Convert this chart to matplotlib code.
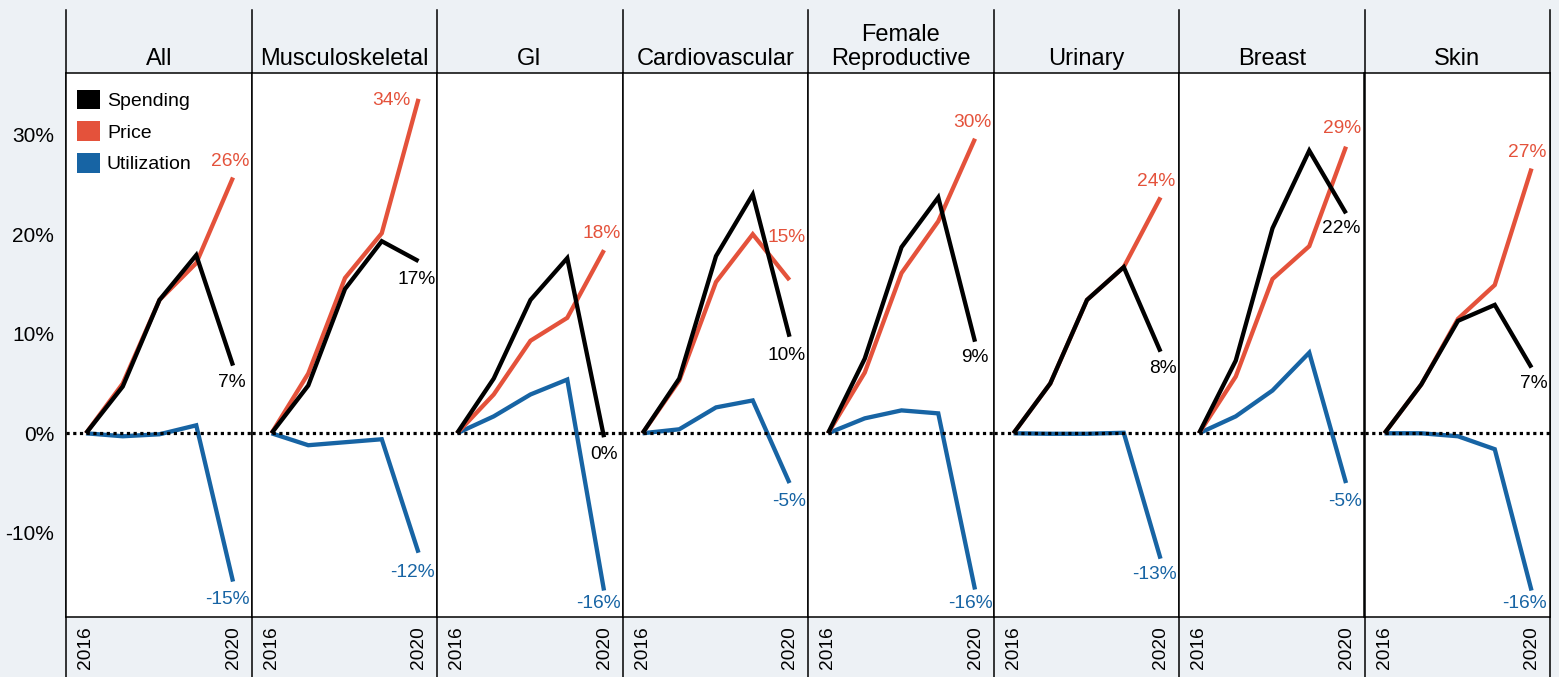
import matplotlib
matplotlib.use("Agg")
import matplotlib.pyplot as plt
from matplotlib.patches import Patch
from matplotlib.lines import Line2D
import numpy as np

plt.rcParams['font.family'] = ['Liberation Sans', 'DejaVu Sans']

# ---------------- data ----------------
years = [2016, 2017, 2018, 2019, 2020]
categories = ["All", "Musculoskeletal", "GI", "Cardiovascular",
              "Female\nReproductive", "Urinary", "Breast", "Skin"]

spending = [
    [0, 4.7, 13.4, 17.9, 6.8],
    [0, 4.8, 14.5, 19.3, 17.3],
    [0, 5.5, 13.4, 17.6, -0.4],
    [0, 5.5, 17.8, 24.0, 9.7],
    [0, 7.5, 18.7, 23.7, 9.2],
    [0, 5.0, 13.4, 16.7, 8.2],
    [0, 7.3, 20.6, 28.4, 22.1],
    [0, 4.9, 11.3, 12.9, 6.6],
]
price = [
    [0, 5.0, 13.4, 17.1, 25.7],
    [0, 6.0, 15.6, 20.1, 33.6],
    [0, 3.9, 9.3, 11.6, 18.4],
    [0, 5.3, 15.2, 20.0, 15.4],
    [0, 6.1, 16.1, 21.3, 29.6],
    [0, 5.0, 13.4, 16.7, 23.7],
    [0, 5.7, 15.5, 18.8, 28.8],
    [0, 4.9, 11.5, 14.9, 26.6],
]
utilization = [
    [0, -0.3, -0.1, 0.8, -14.9],
    [0, -1.2, -0.9, -0.6, -12.0],
    [0, 1.7, 3.9, 5.4, -15.8],
    [0, 0.4, 2.6, 3.3, -5.0],
    [0, 1.5, 2.3, 2.0, -15.7],
    [0, -0.05, -0.05, 0.05, -12.6],
    [0, 1.7, 4.3, 8.1, -5.0],
    [0, 0.0, -0.3, -1.6, -15.8],
]
series_names = ["Spending", "Price", "Utilization"]
yticks = [-10, 0, 10, 20, 30]
xticks = [2016, 2020]

# ---------------- style ----------------
BG = "#edf1f5"
COLORS = {"Spending": "#000000", "Price": "#e4523b", "Utilization": "#1764a4"}

# end-label offsets in pixels (dx, dy) for (spending, price, utilization)
label_offsets = [
    [(-1, -17), (-3, 16), (-6, -18)],
    [(-2, -18), (-27, -2), (-6, -20)],
    [(0, -17), (-2, 17), (-6, -13)],
    [(-3, -19), (-3, 43), (0, -18)],
    [(0, -16), (-3, 16), (-5, -14)],
    [(2, -17), (-4, 16), (-6, -16)],
    [(-5, -15), (-4, 18), (-1, -18)],
    [(2, -16), (-4, 16), (-7, -13)],
]

W, H = 1559, 677
fig = plt.figure(figsize=(W / 100, H / 100), dpi=100, facecolor=BG)

left_px = 66
panel_w = 185.5
top_px = 73
bot_px = 617

axes = []
for i, cat in enumerate(categories):
    x0 = (left_px + i * panel_w) / W
    ax = fig.add_axes([x0, 1 - bot_px / H, panel_w / W, (bot_px - top_px) / H])
    ax.set_facecolor("white")
    axes.append(ax)

    data = [spending[i], price[i], utilization[i]]
    for k in [2, 1, 0]:
        name = series_names[k]
        ax.plot(years, data[k], color=COLORS[name], lw=3.1,
                solid_joinstyle="miter", solid_capstyle="butt", zorder=3 + (2 - k))
    ax.axhline(0, color="black", lw=2.3, ls=(0, (1, 1.1)), zorder=10)

    for k in range(3):
        name = series_names[k]
        v = data[k][-1]
        dx, dy = label_offsets[i][k]
        ax.annotate(f"{int(round(v))}%", xy=(years[-1], v), xytext=(dx, dy),
                    textcoords="offset pixels", ha="center", va="center",
                    fontsize=13.8, color=COLORS[name], zorder=12)

    ax.set_xlim(2015.456, 2020.503)
    ax.set_ylim(-18.46, 36.2)
    ax.set_xticks(xticks)
    ax.set_xticklabels([str(x) for x in xticks], rotation=90, fontsize=13.8)
    ax.tick_params(axis="x", length=0, pad=7)
    ax.set_yticks(yticks)
    if i == 0:
        ax.set_yticklabels([f"{t}%" for t in yticks], fontsize=15)
        ax.tick_params(axis="y", length=0, pad=8.6)
    else:
        ax.tick_params(axis="y", length=0, labelleft=False)
    for s in ax.spines.values():
        s.set_color("black")
        s.set_linewidth(1.1)
    ax.set_title(cat, fontsize=17, pad=6, linespacing=1.12)

# legend in first panel
handles = [Patch(facecolor=COLORS[n], edgecolor="none", label=n) for n in series_names]
axes[0].legend(handles=handles, loc="upper left",
               bbox_to_anchor=(11 / panel_w, 1 - 16.5 / (bot_px - top_px)),
               borderaxespad=0, borderpad=0, frameon=False, fontsize=14,
               handlelength=1.18, handleheight=1.18, handletextpad=0.36,
               labelspacing=0.58)

# vertical dividers through header and tick area
for i in range(len(categories) + 1):
    x = (left_px + i * panel_w) / W
    fig.add_artist(Line2D([x, x], [0, 1 - 10 / H], color="black", lw=1.1,
                          transform=fig.transFigure, zorder=0))

fig.savefig("out.png", dpi=100, facecolor=BG)
